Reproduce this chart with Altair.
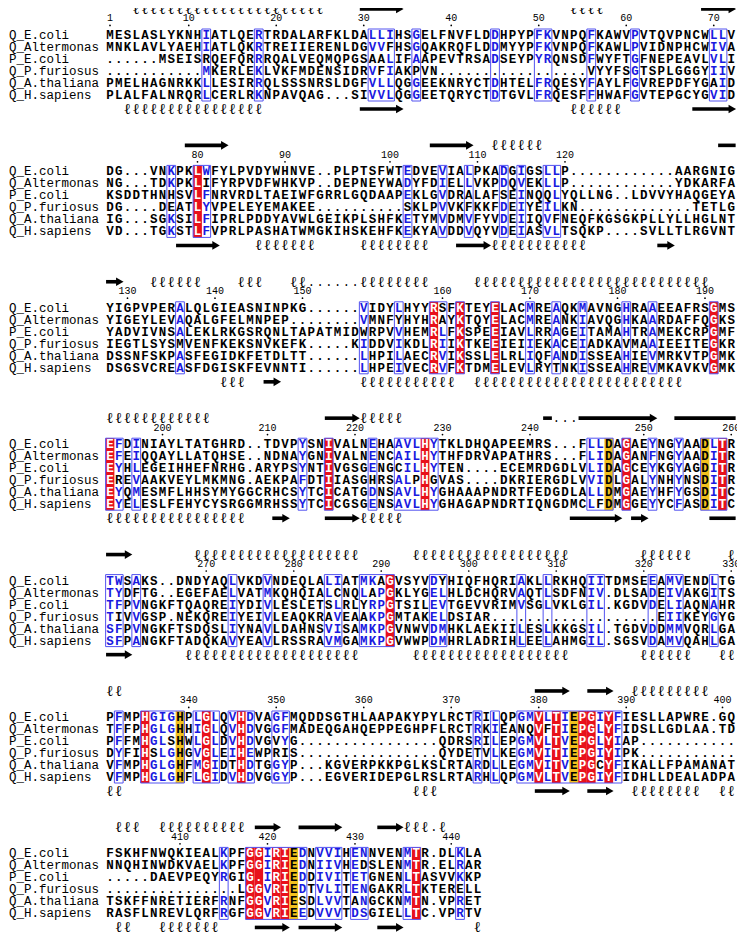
import altair as alt
import pandas as pd
from collections import Counter

NAMES = ["Q_E.coli", "Q_Altermonas", "P_E.coli", "Q_P.furiosus", "Q_A.thaliana", "Q_H.sapiens"]

BLOCK1 = [
    "MESLASLYKNHIATLQERTRDALARFKLDALLIHSGELFNVFLDDHPYPFKVNPQFKAWVPVTQVPNCWLLV",
    "MNKLAVLYAEHIATLQKRTREIIERENLDGVVFHSGQAKRQFLDDMYYPFKVNPQFKAWLPVIDNPHCWIVA",
    "......MSEISRQEFQRRRQALVEQMQPGSAALIFAAPEVTRSADSEYPYRQNSDFWYFTGFNEPEAVLVLI",
    "...........MKERLEKLVKFMDENSIDRVFIAKPVN.................VYYFSGTSPLGGGYIIV",
    "PMELHAGNRKKLLESIRRQLSSSNRSLDGFVLLQGGEEKNRYCTDHTELFRQESYFAYLFGVREPDFYGAID",
    "PLALFALNRQRLCERLRKNPAVQAG...SIVVLQGGEETQRYCTDTGVLFRQESFFHWAFGVTEPGCYGVID",
]
BLOCK2 = [
    "DG...VNKPKLWFYLPVDYWHNVE..PLPTSFWTEDVEVIALPKADGIGSLLP............AARGNIG",
    "NG...TDKPKLIFYRPVDFWHKVP..DEPNEYWADYFDIELLVKPDQVEKLLP............YDKARFA",
    "KSDDTHNHSVLFNRVRDLTAEIWFGRRLGQDAAPEKLGVDRALAFSEINQQLYQLLNG..LDVVYHAQGEYA",
    "DG....DEATLYVPELEYEMAKEE..........SKLPVVKFKKFDEIYEILKN.............TETLG",
    "IG...SGKSILFIPRLPDDYAVWLGEIKPLSHFKETYMVDMVFYVDEIIQVFNEQFKGSGKPLLYLLHGLNT",
    "VD...TGKSTLFVPRLPASHATWMGKIHSKEHFKEKYAVDDVQYVDEIASVLTSQKP....SVLLTLRGVNT",
]
BLOCK3 = [
    "YIGPVPERALQLGIEASNINPKG......VIDYLHYYRSFKTEYELACMREAQKMAVNGHRAAEEAFRSGMS",
    "YIGEYLEVAQALGFELMNPEP........VMNFYHYHRAYKTQYELACMREANKIAVQGHKAARDAFFQGKS",
    "YADVIVNSALEKLRKGSRQNLTAPATMIDWRPVVHEMRLFKSPEEIAVLRRAGEITAMAHTRAMEKCRPGMF",
    "IEGTLSYSMVENFKEKSNVKEFK.....KIDDVIKDLRIIKTKEEIEIIEKACEIADKAVMAAIEEITEGKR",
    "DSSNFSKPASFEGIDKFETDLTT......LHPILAECRVIKSSLELRLIQFANDISSEAHIEVMRKVTPGMK",
    "DSGSVCREASFDGISKFEVNNTI......LHPEIVECRVFKTDMELEVLRYTNKISSEAHREVMKAVKVGMK",
]
BLOCK4 = [
    "EFDINIAYLTATGHRD..TDVPYSNIVALNEHAAVLHYTKLDHQAPEEMRS...FLLDAGAEYNGYAADLTR",
    "EFEIQQAYLLATQHSE..NDNAYGNIVALNENCAILHYTHFDRVAPATHRS...FLIDAGANFNGYAADITR",
    "EYHLEGEIHHEFNRHG.ARYPSYNTIVGSGENGCILHYTEN....ECEMRDGDLVLIDAGCEYKGYAGDITR",
    "EREVAAKVEYLMKMNG.AEKPAFDTIIASGHRSALPHGVAS....DKRIERGDLVVIDLGALYNHYNSDITR",
    "EYQMESMFLHHSYMYGGCRHCSYTCICATGDNSAVLHYGHAAAPNDRTFEDGDLALLDMGAEYHFYGSDITC",
    "EYELESLFEHYCYSRGGMRHSSYTCICGSGENSAVLHYGHAGAPNDRTIQNGDMCLFDMGGEYYCFASDITC",
]
BLOCK5 = [
    "TWSAKS..DNDYAQLVKDVNDEQLALIATMKAGVSYVDYHIQFHQRIAKLLRKHQIITDMSEEAMVENDLTG",
    "TYDFTG..EGEFAELVATMKQHQIALCNQLAPGKLYGELHLDCHQRVAQTLSDFNIV.DLSADEIVAKGITS",
    "TFPVNGKFTQAQREIYDIVLESLETSLRLYRPGTSILEVTGEVVRIMVSGLVKLGIL.KGDVDELIAQNAHR",
    "TIVVGSP.NEKQREIYEIVLEAQKRAVEAAKPGMTAKELDSIAR...................EIIKEYGYG",
    "SFPVNGKFTSDQSLIYNAVLDAHNSVISAMKPGVNWVDMHKLAEKIILESLKKGSIL.TGDVDDMMVQRLGA",
    "SFPANGKFTADQKAVYEAVLRSSRAVMGAMKPGVWWPDMHRLADRIHLEELAHMGIL.SGSVDAMVQAHLGA",
]
BLOCK6 = [
    "PFMPHGIGHPLGLQVHDVAGFMQDDSGTHLAAPAKYPYLRCTRILQPGMVLTIEPGIYFIESLLAPWRE.GQ",
    "TFFPHGLGHHIGLQVHDVGGFMADEQGAHQEPPEGHPFLRCTRKIEANQVFTIEPGLYFIDSLLGDLAA.TD",
    "PFFMHGLSHWLGLDVHDVGVYG................QDRSRILEPGMVLTVEPGLYIAP...........",
    "DYFIHSLGHGVGLEIHEWPRIS................QYDETVLKEGMVITIEPGIYIPK...........",
    "VFMPHGLGHFMGIDTHDTGGYP...KGVERPKKPGLKSLRTARDLLEGMVITVEPGCYFIKALLFPAMANAT",
    "VFMPHGLGHFLGIDVHDVGGYP...EGVERIDEPGLRSLRTARHLQPGMVLTVEPGIYFIDHLLDEALADPA",
]
BLOCK7 = [
    "FSKHFNWQKIEALKPFGGIRIEDNVVIHENNVENMTR.DLKLA",
    "NNQHINWDKVAELKPFGGIRIEDNIIVHEDSLENMTR.ELRAR",
    ".....DAEVPEQYRGIG.IRIEDDIVITETGNENLTASVVKKP",
    "...............LGGVRIEDTVLITENGAKRLTKTERELL",
    "TSKFFNRETIERFRNFGGVRIESDLVVTANGCKNMTN.VPRET",
    "RASFLNREVLQRFRGFGGVRIEEDVVVTDSGIELLTC.VPRTV",
]
BLOCKS = [BLOCK1, BLOCK2, BLOCK3, BLOCK4, BLOCK5, BLOCK6, BLOCK7]

# columns (1-based, per block) of strict identity (red), highlighted (yellow), similarity (blue frame)
RED_COLS = [[], [11], [38, 41, 45, 70], [1, 26, 37, 60, 71], [33],
            [5, 12, 16, 50, 52, 55, 56, 58], [17, 18, 20, 21, 36]]
YELLOW_COLS = [[], [], [], [58, 69], [], [9, 54], [22]]
BLUE_COLS = [
    [12, 18, 31, 32, 33, 36, 45, 50, 51, 56, 61, 70, 71],
    [8, 12, 35, 39, 42, 46, 48, 51, 52],
    [9, 30, 34, 39, 49, 52, 55, 60, 63],
    [2, 4, 23, 31, 34, 35, 36, 38, 56, 57, 63, 66, 70],
    [1, 2, 4, 15, 19, 26, 27, 30, 31, 32, 38, 39, 48, 51, 56, 57, 63, 65, 66, 70],
    [2, 6, 7, 8, 11, 13, 15, 17, 20, 21, 43, 45, 48, 49, 51, 53, 57, 59],
    [14, 19, 23, 25, 26, 27, 29, 30, 35, 41],
]

# secondary structure: (block, first col, last col)
HELIX_TOP = [(1, 4, 25), (1, 54, 57), (2, 45, 50), (3, 6, 11), (3, 16, 18), (3, 22, 23),
             (3, 30, 37), (3, 43, 69), (4, 1, 12), (4, 30, 34), (5, 11, 29), (5, 36, 53),
             (5, 62, 67), (5, 72, 72), (6, 1, 2), (6, 61, 69), (7, 2, 4), (7, 7, 16),
             (7, 35, 37), (7, 39, 39)]
HELIX_BOT = [(1, 3, 18), (1, 54, 59), (2, 18, 24), (2, 30, 37), (2, 45, 55), (3, 14, 16),
             (3, 30, 40), (3, 43, 66), (4, 1, 16), (4, 30, 34), (5, 10, 29), (5, 36, 53),
             (5, 62, 67), (5, 71, 72), (6, 1, 2), (6, 36, 38), (6, 61, 68), (6, 71, 72),
             (7, 2, 3), (7, 7, 13), (7, 43, 43)]
# strands: (block, first col, last col, arrow head 1/0)
STRAND_TOP = [(1, 30, 34, 1), (1, 69, 72, 1), (2, 10, 14, 1), (2, 38, 42, 1), (2, 71, 72, 0),
              (3, 1, 2, 1), (4, 26, 29, 1), (4, 51, 51, 0), (4, 55, 63, 1), (4, 66, 72, 0),
              (5, 1, 3, 1), (6, 50, 53, 1), (6, 56, 58, 1), (7, 18, 20, 1), (7, 23, 27, 1),
              (7, 32, 34, 1)]
STRAND_BOT = [(1, 30, 34, 1), (1, 68, 72, 1), (2, 9, 13, 1), (2, 41, 44, 1), (2, 64, 65, 1),
              (3, 19, 20, 1), (4, 20, 21, 1), (4, 26, 29, 1), (4, 54, 59, 1), (4, 61, 62, 1),
              (4, 70, 72, 0), (5, 1, 3, 1), (6, 50, 53, 1), (6, 56, 58, 1), (7, 18, 21, 1),
              (7, 23, 27, 1), (7, 32, 34, 1)]
# dotted (coil) segments on top line: (block, first col, last col)
DOTS_TOP = [(3, 24, 29), (4, 52, 54), (7, 38, 38)]

GROUPS = ["ILMV", "FYW", "DE", "KR", "ST", "NQ", "AG"]

RED, YELLOW, FRAME_BLUE, TEXT_BLUE = "#e8111b", "#f2c01e", "#5252f0", "#1a1ae0"

# ---------- layout helpers ----------
PL = 136.4 / 12.0          # block pitch in row units
TOP_LINE, BOT_LINE = -2.17, 6.17
XS = alt.Scale(domain=[-10.657, 72.657], nice=False, zero=False)
YS = alt.Scale(domain=[-2.25, 74.75], nice=False, zero=False, reverse=True)


def yb(b, line):
    return b * PL + line


def group_of(ch):
    for g in GROUPS:
        if ch in g:
            return g
    return ch


letters, fills, frames = [], [], []
for b, block in enumerate(BLOCKS):
    n = len(block[0])
    assert all(len(s) == n for s in block), (b, [len(s) for s in block])
    red, yel, blue = set(RED_COLS[b]), set(YELLOW_COLS[b]), set(BLUE_COLS[b])
    for i in range(n):
        col = i + 1
        column = [s[i] for s in block]
        gc = Counter(group_of(ch) for ch in column if ch != ".")
        for r, ch in enumerate(column):
            if col in red:
                c = "#ffffff"
            elif col in yel:
                c = "#000000"
            elif col in blue and ch != "." and gc[group_of(ch)] >= 2:
                c = TEXT_BLUE
            else:
                c = "#000000"
            letters.append(dict(x=col, y=yb(b, r), t=ch, c=c))
    for col in red:
        fills.append(dict(x=col - 0.5, x2=col + 0.5, y=yb(b, -0.5), y2=yb(b, 5.5), k=RED))
    for col in yel:
        fills.append(dict(x=col - 0.5, x2=col + 0.5, y=yb(b, -0.5), y2=yb(b, 5.5), k=YELLOW))
    special = sorted(red | yel | blue)
    start = prev = None
    for col in special + [None]:
        if col is not None and prev is not None and col == prev + 1:
            prev = col
            continue
        if start is not None:
            frames.append(dict(x=start - 0.5, x2=prev + 0.5, y=yb(b, -0.5), y2=yb(b, 5.5)))
        start = prev = col

labels = [dict(x=-10.55, y=yb(b, r), t=name) for b in range(len(BLOCKS)) for r, name in enumerate(NAMES)]

ticks = []
num = 0
for b, block in enumerate(BLOCKS):
    for i, ch in enumerate(block[0]):
        if ch != ".":
            num += 1
            if num == 1 or num % 10 == 0:
                ticks.append(dict(x=i + 1, y=yb(b, -1.38), yd=yb(b, -0.8), t=str(num)))

helix = []
for lst, line in ((HELIX_TOP, TOP_LINE), (HELIX_BOT, BOT_LINE)):
    for b, s, e in lst:
        for c in range(s, e + 1):
            helix.append(dict(x=c, y=yb(b - 1, line), t="ℓ"))

bodies, heads = [], []
for lst, line in ((STRAND_TOP, TOP_LINE), (STRAND_BOT, BOT_LINE)):
    for b, s, e, h in lst:
        y = yb(b - 1, line)
        if h:
            bodies.append(dict(x=s - 0.45, x2=e - 0.1, y=y))
            heads.append(dict(x=e + 0.12, y=y))
        else:
            bodies.append(dict(x=s - 0.5, x2=e + 0.5, y=y))

dots = [dict(x=c, y=yb(b - 1, TOP_LINE), t=".") for b, s, e in DOTS_TOP for c in range(s, e + 1)]


def X(f="x"):
    return alt.X(f"{f}:Q", scale=XS, axis=None)


def Y(f="y"):
    return alt.Y(f"{f}:Q", scale=YS, axis=None)


fill_layer = alt.Chart(pd.DataFrame(fills)).mark_rect().encode(
    x=X(), x2="x2:Q", y=Y(), y2="y2:Q", fill=alt.Fill("k:N", scale=None),
)
frame_layer = alt.Chart(pd.DataFrame(frames)).mark_rect(
    fillOpacity=0, stroke=FRAME_BLUE, strokeWidth=1
).encode(x=X(), x2="x2:Q", y=Y(), y2="y2:Q")

letter_layer = alt.Chart(pd.DataFrame(letters)).mark_text(
    font="Liberation Mono", fontSize=12.5, fontWeight="bold", baseline="middle", align="center"
).encode(x=X(), y=Y(), text="t:N", fill=alt.Fill("c:N", scale=None))

label_layer = alt.Chart(pd.DataFrame(labels)).mark_text(
    font="Liberation Mono", fontSize=12.5, baseline="middle", align="left", fill="black"
).encode(x=X(), y=Y(), text="t:N")

tick_layer = alt.Chart(pd.DataFrame(ticks)).mark_text(
    font="Liberation Mono", fontSize=10, baseline="middle", align="center", fill="black"
).encode(x=X(), y=Y(), text="t:N")
tickdot_layer = alt.Chart(pd.DataFrame(ticks)).mark_circle(size=3, color="black", opacity=1).encode(
    x=X(), y=Y("yd"))

helix_layer = alt.Chart(pd.DataFrame(helix)).mark_text(
    font="DejaVu Serif", fontSize=15, baseline="middle", align="center", fill="black"
).encode(x=X(), y=Y(), text="t:N")
body_layer = alt.Chart(pd.DataFrame(bodies)).mark_rule(strokeWidth=3.6, color="black").encode(
    x=X(), x2="x2:Q", y=Y())
head_layer = alt.Chart(pd.DataFrame(heads)).mark_point(
    shape="triangle-right", filled=True, size=75, color="black", opacity=1
).encode(x=X(), y=Y())
dot_layer = alt.Chart(pd.DataFrame(dots)).mark_text(
    font="Liberation Mono", fontSize=12, baseline="middle", align="center", fill="black"
).encode(x=X(), y=Y(), text="t:N")

chart = alt.layer(
    fill_layer, frame_layer, letter_layer, label_layer, tick_layer, tickdot_layer,
    helix_layer, body_layer, head_layer, dot_layer
).properties(width=729, height=924, autosize="none", padding=0).configure_view(stroke=None)

chart.save("out.html", embed_options={"renderer": "svg", "actions": False})
